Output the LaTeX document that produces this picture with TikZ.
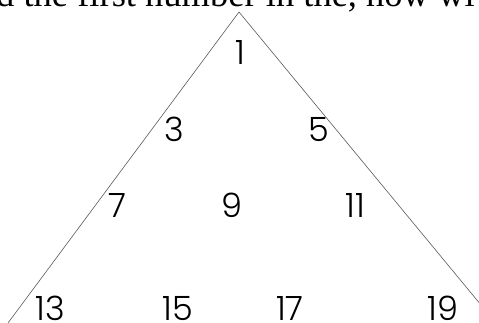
\documentclass[tikz,border=0pt]{standalone}
\usepackage{fontspec}
\setmainfont{Liberation Serif}
\newfontfamily\numfont{Poppins}[UprightFont=* Light]
\begin{document}
\begin{tikzpicture}[x=1pt,y=-1pt,
  num/.style={inner sep=0pt,anchor=base,font=\numfont\fontsize{33.5}{33.5}\selectfont},
  edge/.style={draw=black!65,line width=0.6pt}]
\useasboundingbox (0,0) rectangle (479,323);
\clip (0,0) rectangle (479,323);
\node[inner sep=0pt,anchor=base west,font=\fontsize{36.5}{36.5}\selectfont] (top) at (-4,7) {d the first number in the, how wi};
\coordinate (apex) at (239,12);
\coordinate (bl) at (8,323);
\coordinate (br) at (481,305);
\draw[edge] (bl) -- (apex) -- (br);
\node[num] (n1) at (240.5,65) {1};
\node[num] (n3) at (174.5,142) {3};
\node[num] (n5) at (318.5,142) {5};
\node[num] (n7) at (117.5,218) {7};
\node[num] (n9) at (231.5,218) {9};
\node[num] (n11) at (355,218) {11};
\node[num] (n13) at (50,320.5) {13};
\node[num] (n15) at (178,320.5) {15};
\node[num] (n17) at (290,320.5) {17};
\node[num] (n19) at (443,320.5) {19};
\end{tikzpicture}
\end{document}
